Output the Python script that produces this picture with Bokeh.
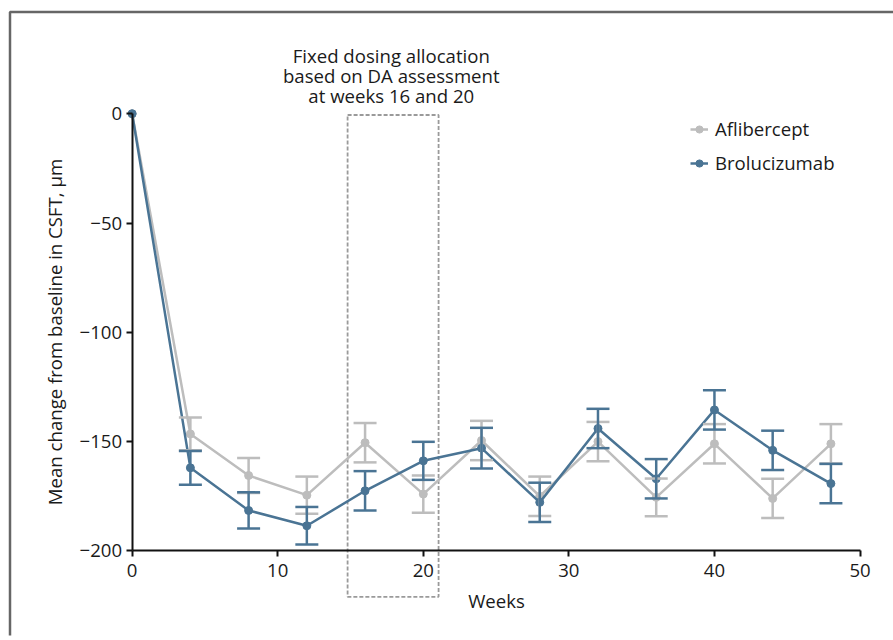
from bokeh.plotting import figure
from bokeh.models import (ColumnDataSource, Whisker, TeeHead, Legend, LegendItem,
                          FixedTicker, Label, Range1d)
from bokeh.embed import file_html
from bokeh.resources import INLINE

# ---- data ----
weeks = [0, 4, 8, 12, 16, 20, 24, 28, 32, 36, 40, 44, 48]
afl_mean = [0, -146.5, -165.5, -174.5, -150.5, -174.0, -149.5, -175.0, -150.0, -175.5, -151.0, -176.0, -151.0]
afl_err = [0, 7.5, 8.0, 8.5, 9.0, 8.5, 9.0, 9.0, 9.0, 8.6, 9.0, 9.0, 9.0]
bro_mean = [0, -162.0, -181.5, -188.5, -172.5, -158.8, -153.0, -177.8, -144.0, -167.0, -135.5, -154.0, -169.2]
bro_err = [0, 7.7, 8.3, 8.6, 9.0, 8.7, 9.3, 9.0, 9.0, 9.0, 9.0, 9.0, 9.0]
series_names = ["Aflibercept", "Brolucizumab"]
x_ticks = [0, 10, 20, 30, 40, 50]
y_ticks = [-200, -150, -100, -50, 0]
y_tick_labels = ["\u2212200", "\u2212150", "\u2212100", "\u221250", "0"]
box_weeks = [14.8, 21.05]
box_values = [-221.0, -0.6]
note_lines = ["Fixed dosing allocation", "based on DA assessment", "at weeks 16 and 20"]
note_week = 17.8
note_values = [26.7, 17.6, 8.4]
x_label = "Weeks"
y_label = "Mean change from baseline in CSFT, \u00b5m"

GRAY = "#bdbdbd"
BLUE = "#4a7494"
FONT = "Open Sans"
FS = "18.6px"
TXT = "#1a1a1a"

W, H = 893, 640
BORDER = 5
X0, X1 = -8.7, 52.3
Y0, Y1 = -238.7, 49.5

p = figure(width=W, height=H, output_backend="svg", toolbar_location=None,
           x_range=Range1d(X0, X1), y_range=Range1d(Y0, Y1),
           min_border_left=BORDER, min_border_right=0, min_border_top=BORDER,
           min_border_bottom=BORDER)
p.xgrid.visible = False
p.ygrid.visible = False
p.outline_line_color = None
p.background_fill_color = "white"
p.border_fill_color = "white"

# helpers: canvas pixel -> data (for the decorative page border only)
fw, fh = W - BORDER, H - 2 * BORDER
def px_x(px):
    return X0 + (px - BORDER) / fw * (X1 - X0)
def px_y(py):
    return Y1 - (py - BORDER) / fh * (Y1 - Y0)

# page frame (cropped border on left/top)
p.quad(left=[px_x(9.5)], right=[px_x(W + 20)], top=[px_y(11.5)], bottom=[px_y(H + 20)],
       fill_alpha=0, line_color="#666666", line_width=2.5)

# dashed box
p.quad(left=[box_weeks[0]], right=[box_weeks[1]], bottom=[box_values[0]], top=[box_values[1]],
       fill_alpha=0, line_color="#9a9a9a", line_width=1.8, line_dash="4 2")

legend_items = []
for name, mean, err, col in [(series_names[0], afl_mean, afl_err, GRAY),
                             (series_names[1], bro_mean, bro_err, BLUE)]:
    src = ColumnDataSource(dict(x=weeks, y=mean))
    wx = [w for w, e in zip(weeks, err) if e > 0]
    wu = [m + e for m, e in zip(mean, err) if e > 0]
    wl = [m - e for m, e in zip(mean, err) if e > 0]
    wsrc = ColumnDataSource(dict(x=wx, upper=wu, lower=wl))
    wh = Whisker(source=wsrc, base="x", upper="upper", lower="lower", dimension="height",
                 line_color=col, line_width=2.5, level="glyph",
                 upper_head=TeeHead(size=23, line_color=col, line_width=2.5),
                 lower_head=TeeHead(size=23, line_color=col, line_width=2.5))
    p.add_layout(wh)
    ln = p.line("x", "y", source=src, line_color=col, line_width=2.5)
    sc = p.scatter("x", "y", source=src, size=8, fill_color=col, line_color=col)
    legend_items.append(LegendItem(label=name, renderers=[ln, sc]))

legend = Legend(items=legend_items, location=(685, 460), padding=0, margin=0,
                border_line_color=None, background_fill_alpha=0,
                glyph_width=18, glyph_height=20, label_height=20, spacing=9,
                label_standoff=7, label_text_font=FONT, label_text_font_size=FS,
                label_text_color=TXT)
p.add_layout(legend)

for txt, yv in zip(note_lines, note_values):
    p.add_layout(Label(x=note_week, y=yv, text=txt, text_align="center", text_baseline="middle",
                       text_font=FONT, text_font_size=FS, text_color=TXT))

for ax in (p.xaxis[0], p.yaxis[0]):
    ax.axis_line_width = 2
    ax.axis_line_color = "#111111"
    ax.major_tick_line_width = 2
    ax.major_tick_line_color = "#111111"
    ax.minor_tick_line_color = None
    ax.major_tick_in = 0
    ax.major_tick_out = 6
    ax.major_label_text_font = FONT
    ax.major_label_text_font_size = FS
    ax.major_label_text_color = TXT
    ax.axis_label_text_font = FONT
    ax.axis_label_text_font_size = FS
    ax.axis_label_text_font_style = "normal"
    ax.axis_label_text_color = TXT

p.xaxis.fixed_location = -200
p.xaxis.bounds = (0, 50)
p.xaxis.ticker = FixedTicker(ticks=x_ticks)
p.xaxis.axis_label = x_label
p.xaxis.major_label_standoff = 7
p.xaxis.axis_label_standoff = 8

p.yaxis.fixed_location = 0
p.yaxis.bounds = (-200, 0)
p.yaxis.ticker = FixedTicker(ticks=y_ticks)
p.yaxis.major_label_overrides = {t: l for t, l in zip(y_ticks, y_tick_labels)}
p.yaxis.axis_label = y_label
p.yaxis.major_label_standoff = 4
p.yaxis.axis_label_standoff = 10

open("out.html", "w").write(file_html(p, INLINE))
